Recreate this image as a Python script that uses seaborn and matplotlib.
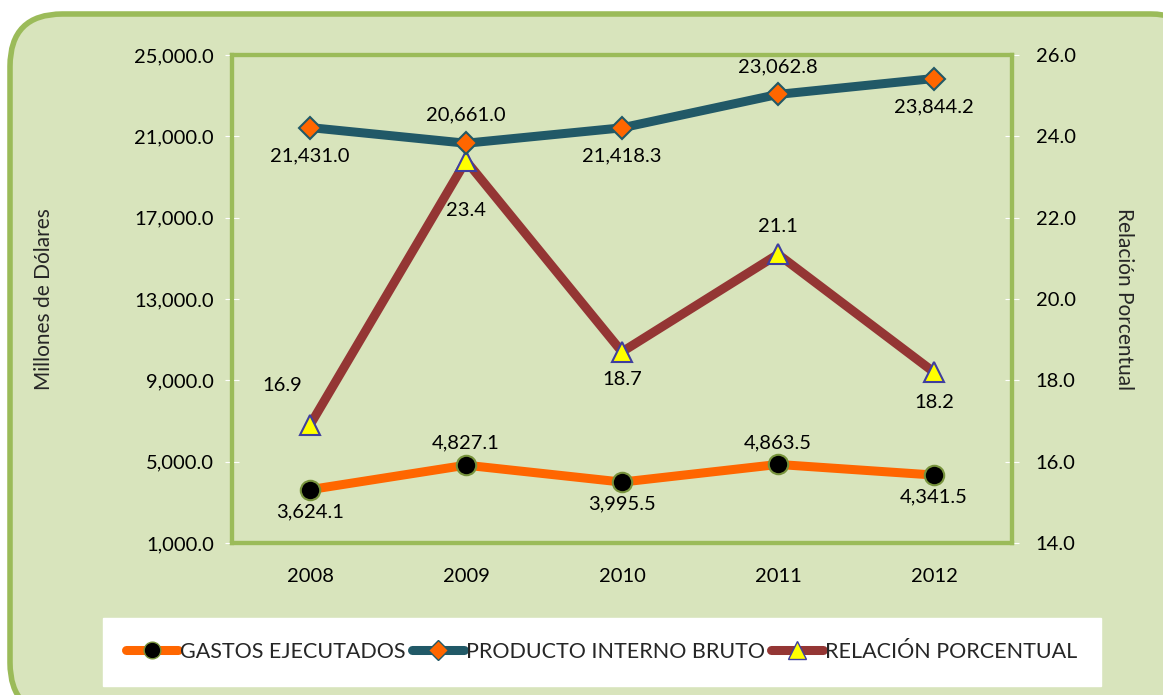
import matplotlib
matplotlib.use('Agg')
import matplotlib.pyplot as plt
from matplotlib.patches import FancyBboxPatch
from matplotlib.lines import Line2D
import seaborn as sns
import pandas as pd

years = ['2008', '2009', '2010', '2011', '2012']
gastos = [3624.1, 4827.1, 3995.5, 4863.5, 4341.5]
pib = [21431.0, 20661.0, 21418.3, 23062.8, 23844.2]
relacion = [16.9, 23.4, 18.7, 21.1, 18.2]

names = ['GASTOS EJECUTADOS', 'PRODUCTO INTERNO BRUTO', 'RELACIÓN PORCENTUAL']

sns.set_style('white')
plt.rcParams['font.family'] = ['Lato', 'DejaVu Sans']

W, H = 1163, 695
fig = plt.figure(figsize=(W / 100, H / 100), dpi=100)
fig.patch.set_facecolor('white')

# marco redondeado verde
bg = FancyBboxPatch((10 / W, -20 / H), (W + 30) / W, (H - 14 + 20) / H,
                    boxstyle='round,pad=0,rounding_size=0.045',
                    transform=fig.transFigure, facecolor='#D8E4BC',
                    edgecolor='#9BBB59', linewidth=4, zorder=-5,
                    mutation_aspect=W / H)
fig.patches.append(bg)

# titulo cortado arriba
fig.text(608 / W, 1 - 3 / H, 'Millones de Dólares', ha='center', va='bottom',
         fontsize=11, color='#595959')

ax = fig.add_axes([232 / W, 1 - 543 / H, 780 / W, 488 / H])
ax2 = ax.twinx()

df = pd.DataFrame({'x': range(len(years)), 'gastos': gastos, 'pib': pib,
                   'relacion': relacion})

sns.lineplot(data=df, x='x', y='gastos', ax=ax, color='#FF6600', lw=6.5,
             marker='o', markersize=14, markerfacecolor='black',
             markeredgecolor='#77933C', markeredgewidth=1.5, zorder=3)
sns.lineplot(data=df, x='x', y='pib', ax=ax, color='#215967', lw=6.5,
             marker='D', markersize=11, markerfacecolor='#FF6600',
             markeredgecolor='#215967', markeredgewidth=1.5, zorder=3)
sns.lineplot(data=df, x='x', y='relacion', ax=ax2, color='#943634', lw=6.5,
             marker='^', markersize=15, markerfacecolor='yellow',
             markeredgecolor='#3F3F9F', markeredgewidth=1.5, zorder=3)

ax.set_xlim(-0.5, 4.5)
ax.set_ylim(1000, 25000)
ax.set_yticks(range(1000, 25001, 4000))
ax.set_yticklabels([f'{v:,.1f}' for v in range(1000, 25001, 4000)])
ax2.set_ylim(14, 26)
ax2.set_yticks([14, 16, 18, 20, 22, 24, 26])
ax2.set_yticklabels([f'{v:.1f}' for v in [14, 16, 18, 20, 22, 24, 26]])
ax.set_xticks(range(len(years)))
ax.set_xticklabels(years)

ax.set_xlabel('')
ax.set_ylabel('Millones de Dólares', fontsize=15, labelpad=58)
ax2.set_ylabel('Relación Porcentual', fontsize=15, rotation=-90, labelpad=42)

for a in (ax, ax2):
    a.tick_params(labelsize=14.5, colors='black')
    for s in a.spines.values():
        s.set_color('#9BBB59')
        s.set_linewidth(3)
ax.tick_params(axis='y', direction='inout', length=10, color='white', pad=8)
ax2.tick_params(axis='y', direction='inout', length=10, color='white', pad=12)
ax.tick_params(axis='x', length=0, pad=18)
ax2.set_facecolor('#D8E4BC')
ax.set_zorder(ax2.get_zorder() + 1)
ax.patch.set_visible(False)

# etiquetas de datos
lab_kw = dict(fontsize=14.5, ha='center', color='black')
g_off = [-22, 22, -22, 22, -22]
for i, v in enumerate(gastos):
    ax.annotate(f'{v:,.1f}', (i, v), xytext=(0, g_off[i]), textcoords='offset pixels',
                va='center', **lab_kw)
p_off = [-28, 28, -28, 28, -28]
for i, v in enumerate(pib):
    ax.annotate(f'{v:,.1f}', (i, v), xytext=(0, p_off[i]), textcoords='offset pixels',
                va='center', **lab_kw)
r_off = [(-28, 40), (0, -50), (0, -28), (0, 28), (0, -30)]
for i, v in enumerate(relacion):
    ax2.annotate(f'{v:.1f}', (i, v), xytext=r_off[i], textcoords='offset pixels',
                 va='center', **lab_kw)

handles = [
    Line2D([], [], color='#FF6600', lw=6.5, solid_capstyle='round', marker='o',
           markersize=12, markerfacecolor='black', markeredgecolor='#77933C'),
    Line2D([], [], color='#215967', lw=6.5, solid_capstyle='round', marker='D',
           markersize=10, markerfacecolor='#FF6600', markeredgecolor='#215967'),
    Line2D([], [], color='#943634', lw=6.5, solid_capstyle='round', marker='^',
           markersize=13, markerfacecolor='yellow', markeredgecolor='#3F3F9F'),
]
leg = fig.legend(handles, names, loc='center', ncol=3,
                 bbox_to_anchor=(602 / W, 1 - 652 / H), frameon=True,
                 fontsize=15.5, handlelength=2.4, handletextpad=0.1,
                 columnspacing=0.3, borderpad=1.1, fancybox=False, framealpha=1)
leg.get_frame().set_facecolor('white')
leg.get_frame().set_edgecolor('white')

fig.savefig('out.png', dpi=100, facecolor='white')
